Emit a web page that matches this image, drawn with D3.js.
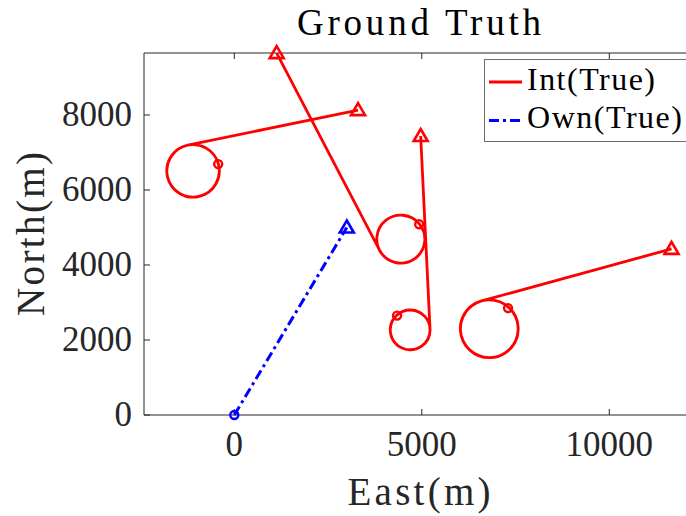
<!DOCTYPE html>
<html>
<head>
<meta charset="utf-8">
<script src="https://cdn.jsdelivr.net/npm/d3@7"></script>
<style>
  html, body { margin: 0; padding: 0; background: #fff; }
  svg { display: block; font-family: "Liberation Serif", "Times New Roman", serif; }
</style>
</head>
<body>
<svg id="chart" width="686" height="516"></svg>
<script>
// Axis ticks
const xTicks = [0, 5000, 10000];
const yTicks = [0, 2000, 4000, 6000, 8000];

// Ownship track (East, North in metres)
const ownStart = [0, 0];
const ownEnd = [3000, 5000];

// Intruder tracks: start point, holding-turn centre and radius, turn sense, final point
const intStart  = [[-430, 6690], [4930, 5085], [4340, 2650], [7300, 2850]];
const intCenter = [[-1100, 6510], [4440, 4690], [4690, 2270], [6800, 2300]];
const intRadius = [700, 640, 530, 770];
const intTurn   = ["cw", "cw", "ccw", "cw"];
const intEnd    = [[3300, 8130], [1130, 9650], [4970, 7440], [11660, 4430]];

const legendLabels = ["Int(True)", "Own(True)"];

const svg = d3.select("#chart");
const mLeft = 144, mTop = 53, plotW = 550, plotH = 362;

const x = d3.scaleLinear().domain([-2408, 12259]).range([mLeft, mLeft + plotW]);
const y = d3.scaleLinear().domain([0, 9653]).range([mTop + plotH, mTop]);

const axisColor = "#262626";
const red = "#ff0000", blue = "#0000ff";
const dashDot = "10,4,3,4";

// Axes box with inward ticks
const g = svg.append("g");
[[mLeft, mTop + plotH, mLeft + plotW, mTop + plotH],
 [mLeft, mTop, mLeft + plotW, mTop],
 [mLeft, mTop, mLeft, mTop + plotH],
 [mLeft + plotW, mTop, mLeft + plotW, mTop + plotH]].forEach(s => {
  g.append("line").attr("x1", s[0]).attr("y1", s[1]).attr("x2", s[2]).attr("y2", s[3])
    .attr("stroke", axisColor).attr("stroke-width", 1);
});

const tickLen = 6;
xTicks.forEach(t => {
  g.append("line").attr("x1", x(t)).attr("x2", x(t)).attr("y1", mTop + plotH).attr("y2", mTop + plotH - tickLen)
    .attr("stroke", axisColor);
  g.append("line").attr("x1", x(t)).attr("x2", x(t)).attr("y1", mTop).attr("y2", mTop + tickLen)
    .attr("stroke", axisColor);
  g.append("text").attr("x", x(t)).attr("y", mTop + plotH + 41)
    .attr("text-anchor", "middle").attr("font-size", 35).attr("fill", axisColor).text(t);
});
yTicks.forEach(t => {
  g.append("line").attr("x1", mLeft).attr("x2", mLeft + tickLen).attr("y1", y(t)).attr("y2", y(t))
    .attr("stroke", axisColor);
  g.append("text").attr("x", mLeft - 12).attr("y", y(t) + 11)
    .attr("text-anchor", "end").attr("font-size", 35).attr("fill", axisColor).text(t);
});

// Titles
svg.append("text").attr("x", mLeft + plotW / 2).attr("y", 35).attr("text-anchor", "middle")
  .attr("font-size", 37).attr("fill", "#000").attr("textLength", 244).attr("lengthAdjust", "spacing")
  .text("Ground Truth");
svg.append("text").attr("x", mLeft + plotW / 2).attr("y", 505).attr("text-anchor", "middle")
  .attr("font-size", 39).attr("fill", axisColor).attr("textLength", 143).attr("lengthAdjust", "spacing")
  .text("East(m)");
svg.append("text").attr("transform", `translate(44,${mTop + plotH / 2}) rotate(-90)`)
  .attr("text-anchor", "middle").attr("font-size", 39).attr("fill", axisColor)
  .attr("textLength", 164).attr("lengthAdjust", "spacing").text("North(m)");

// Intruder paths: loop around the holding circle, then leave on the tangent toward the final point
const rPx = x(1) - x(0);
const data = svg.append("g");
const triangle = "M0,-7L7,5L-7,5Z";
intStart.forEach((s, i) => {
  const S = [x(s[0]), y(s[1])];
  const C = [x(intCenter[i][0]), y(intCenter[i][1])];
  const E = [x(intEnd[i][0]), y(intEnd[i][1])];
  const r = intRadius[i] * rPx;
  // Visual clockwise = increasing screen angle
  const cwScreen = intTurn[i] === "cw";
  const a0 = Math.atan2(S[1] - C[1], S[0] - C[0]);
  const d = Math.hypot(E[0] - C[0], E[1] - C[1]);
  const beta = Math.atan2(E[1] - C[1], E[0] - C[0]);
  const alpha = Math.acos(r / d);
  const test = a => {
    const T = [C[0] + r * Math.cos(a), C[1] + r * Math.sin(a)];
    const v = cwScreen ? [-Math.sin(a), Math.cos(a)] : [Math.sin(a), -Math.cos(a)];
    return (E[0] - T[0]) * v[0] + (E[1] - T[1]) * v[1];
  };
  const aT = test(beta - alpha) > test(beta + alpha) ? beta - alpha : beta + alpha;

  const p = d3.path();
  p.moveTo(S[0], S[1]);
  p.arc(C[0], C[1], r, a0, a0 + (cwScreen ? 2 * Math.PI : -2 * Math.PI), !cwScreen);
  p.arc(C[0], C[1], r, a0, aT, !cwScreen);
  p.lineTo(E[0], E[1]);
  data.append("path").attr("d", p.toString()).attr("fill", "none")
    .attr("stroke", red).attr("stroke-width", 2.8).attr("stroke-linejoin", "round");

  data.append("circle").attr("cx", S[0]).attr("cy", S[1]).attr("r", 4)
    .attr("fill", "none").attr("stroke", red).attr("stroke-width", 2.4);
  data.append("path").attr("transform", `translate(${E[0]},${E[1]})`)
    .attr("d", triangle).attr("fill", "none")
    .attr("stroke", red).attr("stroke-width", 2.6).attr("stroke-linejoin", "miter");
});

// Ownship path
data.append("line").attr("x1", x(ownStart[0])).attr("y1", y(ownStart[1]))
  .attr("x2", x(ownEnd[0])).attr("y2", y(ownEnd[1]))
  .attr("stroke", blue).attr("stroke-width", 3).attr("stroke-dasharray", dashDot);
data.append("circle").attr("cx", x(ownStart[0])).attr("cy", y(ownStart[1])).attr("r", 4)
  .attr("fill", "none").attr("stroke", blue).attr("stroke-width", 2.4);
data.append("path").attr("transform", `translate(${x(ownEnd[0])},${y(ownEnd[1])})`)
  .attr("d", triangle).attr("fill", "none")
  .attr("stroke", blue).attr("stroke-width", 2.6);

// Legend
const lg = svg.append("g");
lg.append("rect").attr("x", 484.5).attr("y", 59.5).attr("width", 204).attr("height", 82)
  .attr("fill", "#fff").attr("stroke", "#6e6e6e").attr("stroke-width", 1);
const legendStyle = [
  { color: red, dash: null, len: 128 },
  { color: blue, dash: dashDot, len: 155 }
];
legendLabels.forEach((lab, i) => {
  const yy = 82 + i * 38.5;
  lg.append("line").attr("x1", 489).attr("x2", 522).attr("y1", yy).attr("y2", yy)
    .attr("stroke", legendStyle[i].color).attr("stroke-width", 2.8)
    .attr("stroke-dasharray", legendStyle[i].dash);
  lg.append("text").attr("x", 527).attr("y", yy + 7.5).attr("font-size", 32).attr("fill", "#000")
    .attr("textLength", legendStyle[i].len).attr("lengthAdjust", "spacing").text(lab);
});
</script>
</body>
</html>
